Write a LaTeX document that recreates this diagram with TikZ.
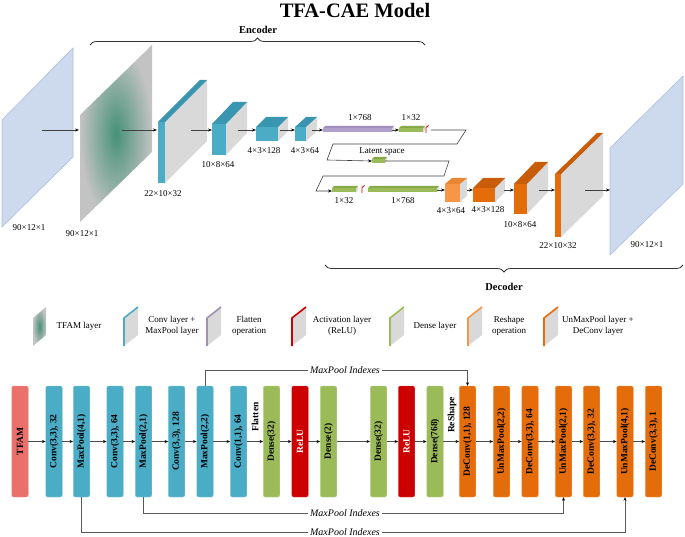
\documentclass[tikz,border=0pt]{standalone}
\usepackage{fontspec}
\setmainfont{Liberation Serif}
\usepackage{graphicx}
\usetikzlibrary{positioning}
\usetikzlibrary{arrows.meta}
\usetikzlibrary{decorations.pathreplacing}

\definecolor{convblue}{RGB}{75,172,198}
\definecolor{convtop}{RGB}{58,150,176}
\definecolor{denseg}{RGB}{155,187,89}
\definecolor{densetop}{RGB}{135,168,70}
\definecolor{relured}{RGB}{204,0,0}
\definecolor{deorange}{RGB}{228,108,10}
\definecolor{detop}{RGB}{200,92,8}
\definecolor{reorange}{RGB}{247,150,70}
\definecolor{retop}{RGB}{232,134,52}
\definecolor{flatpurple}{RGB}{178,160,204}
\definecolor{flattop}{RGB}{160,142,190}
\definecolor{tfamred}{RGB}{234,112,107}
\definecolor{tfamgreen}{RGB}{70,145,120}
\definecolor{tfamgray}{RGB}{195,195,195}
\definecolor{sidegray}{RGB}{217,217,217}
\definecolor{planeblue}{RGB}{205,218,238}
\definecolor{planeedge}{RGB}{170,190,225}

% x0, y0, x1, y1, depth x, depth y, front, top
\newcommand{\cubelayer}[8]{%
  \fill[sidegray] (#3,#2) -- ++(#5,-#6) -- ++(0,{#4-(#2)}) -- (#3,#4) -- cycle;
  \fill[#8] (#1,#2) -- ++(#5,-#6) -- ++({#3-(#1)},0) -- (#3,#2) -- cycle;
  \fill[#7] (#1,#2) rectangle (#3,#4);
}
% x, colour
\newcommand{\legicon}[2]{%
  \fill[sidegray] (#1,318) -- ++(14,-11) -- ++(0,28) -- ++(-14,11) -- cycle;
  \draw[#2, line width=1.6pt] (#1,346) -- (#1,318) -- ++(14,-11);
}
\newcommand{\up}[1]{\rotatebox{90}{#1}}

\begin{document}
\begin{tikzpicture}[x=1pt,y=-1pt,
    arr/.style={draw=black!75, line width=0.6pt, -{Stealth[length=4pt,width=3pt,black]}},
    dim/.style={font=\fontsize{9}{10}\selectfont, inner sep=1pt},
    brc/.style={draw=black!80, line width=0.8pt, decorate, decoration={brace, amplitude=7pt}},
    legtxt/.style={font=\fontsize{9}{11}\selectfont, align=center, inner sep=1pt},
    fbox/.style={rounded corners=2pt, minimum width=16.5pt, minimum height=111pt, inner sep=0pt,
        line width=0.4pt, font=\fontsize{9.5}{10}\selectfont\bfseries},
    tfambox/.style={fbox, fill=tfamred, draw=tfamred!70!white},
    convbox/.style={fbox, fill=convblue, draw=convblue!70!white},
    densebox/.style={fbox, fill=denseg, draw=denseg!70!white},
    relubox/.style={fbox, fill=relured, draw=relured!70!white, text=white},
    debox/.style={fbox, fill=deorange, draw=deorange!70!white},
    flow/.style={draw=black!70, line width=0.6pt, -{Stealth[length=3.5pt,width=3pt,black]}},
    idxline/.style={draw=black!65, line width=0.6pt},
    idxarr/.style={idxline, -{Stealth[length=3.5pt,width=3pt,black]}},
    idxlab/.style={font=\fontsize{10}{11}\selectfont\itshape, inner sep=1.5pt},
    note/.style={font=\fontsize{9.5}{10}\selectfont\bfseries, inner sep=0pt}]
    \useasboundingbox (0,0) rectangle (685,537);

    \node[font=\fontsize{20.5}{22}\selectfont\bfseries] (title) at (355,10) {TFA-CAE Model};

    % encoder
    \draw[brc] (90,45) -- (425,45);
    \node[font=\fontsize{10.5}{12}\selectfont\bfseries] (enc) at (258,30) {Encoder};

    \fill[planeblue, draw=planeedge, line width=0.6pt] (2,120) -- (73,48) -- (73,157) -- (2,227) -- cycle;
    \shade[inner color=tfamgreen, outer color=tfamgray] (80,115) -- (152,45) -- (152,152) -- (80,222) -- cycle;
    \cubelayer{158}{122}{165}{183}{42}{42}{convblue}{convtop}
    \cubelayer{212}{124}{226}{155}{21}{22}{convblue}{convtop}
    \cubelayer{256}{127}{278}{141}{10}{10}{convblue}{convtop}
    \cubelayer{295}{127}{306}{141}{11}{10}{convblue}{convtop}
    \cubelayer{323}{128}{392}{132}{2}{2}{flatpurple}{flattop}
    \cubelayer{399}{128}{423}{132}{2}{2}{denseg}{densetop}
    \cubelayer{372}{159}{385}{163}{2}{2}{denseg}{densetop}
    \draw[relured, line width=0.9pt] (426,133) -- (426,127.5) -- (428.5,125.5);

    \node[dim] (s-in) at (29,228) {90×12×1};
    \node[dim] (s-tfam) at (82,234) {90×12×1};
    \node[dim] (s-c1) at (163,194) {22×10×32};
    \node[dim] (s-c2) at (218,165) {10×8×64};
    \node[dim] (s-c3) at (264,151) {4×3×128};
    \node[dim] (s-c4) at (305,151) {4×3×64};
    \node[dim] (s-fl) at (360,118) {1×768};
    \node[dim] (s-ds) at (411,118) {1×32};
    \node[dim] (s-lat) at (382,152) {Latent space};

    \coordinate (e0) at (42,130);  \coordinate (e1) at (79,130);
    \coordinate (e2) at (122,130); \coordinate (e3) at (157,130);
    \coordinate (e4) at (191,130); \coordinate (e5) at (212,130);
    \coordinate (e6) at (238,130); \coordinate (e7) at (256,130);
    \coordinate (e8) at (280,130); \coordinate (e9) at (295,130);
    \coordinate (e10) at (312,130); \coordinate (e11) at (323,130);
    \coordinate (e12) at (392,130); \coordinate (e13) at (399,130);
    \coordinate (e14) at (431,130); \coordinate (lat-w) at (372,161);
    \coordinate (lat-e) at (385,161);
    \foreach \a/\b in {e0/e1,e2/e3,e4/e5,e6/e7,e8/e9,e10/e11,e12/e13}
        \draw[arr] (\a) -- (\b);
    \draw[arr] (e14) -- (466,130) -- (457,144) -- (333,144) -- (327,160) -- (lat-w);

    % decoder
    \draw[brc] (683,265) -- (325,265);
    \node[font=\fontsize{10.5}{12}\selectfont\bfseries] (dec) at (504,287) {Decoder};

    \cubelayer{332}{188}{356}{192}{2}{2}{denseg}{densetop}
    \cubelayer{368}{188}{437}{192}{2}{2}{denseg}{densetop}
    \draw[relured, line width=0.9pt] (362,193) -- (362,187.5) -- (364.5,185.5);
    \cubelayer{445}{184}{460}{202}{7}{6}{reorange}{retop}
    \cubelayer{473}{188}{495}{202}{10}{10}{deorange}{detop}
    \cubelayer{514}{184}{527}{214}{21}{22}{deorange}{detop}
    \cubelayer{555}{174}{561}{237}{42}{41}{deorange}{detop}
    \fill[planeblue, draw=planeedge, line width=0.6pt] (610,148) -- (683,76) -- (683,184) -- (610,255) -- cycle;

    \node[dim] (s-d1) at (344,201) {1×32};
    \node[dim] (s-d2) at (403,201) {1×768};
    \node[dim] (s-r) at (451,211) {4×3×64};
    \node[dim] (s-u1) at (488,210) {4×3×128};
    \node[dim] (s-u2) at (520,225) {10×8×64};
    \node[dim] (s-u3) at (558,246) {22×10×32};
    \node[dim] (s-out) at (647,245) {90×12×1};

    \coordinate (d0) at (332,191);
    \coordinate (d1) at (437,190); \coordinate (d2) at (445,190);
    \coordinate (d3) at (467,190); \coordinate (d4) at (473,190);
    \coordinate (d5) at (504,190); \coordinate (d6) at (514,190);
    \coordinate (d7) at (539,190); \coordinate (d8) at (555,190);
    \coordinate (d9) at (585,190); \coordinate (d10) at (610,190);
    \draw[arr] (lat-e) -- (449,161) -- (444,176) -- (323,176) -- (316,191) -- (d0);
    \foreach \a/\b in {d1/d2,d3/d4,d5/d6,d7/d8,d9/d10}
        \draw[arr] (\a) -- (\b);

    % legend
    \shade[inner color=tfamgreen, outer color=tfamgray] (33,318) -- ++(13,-11) -- ++(0,28) -- ++(-13,11) -- cycle;
    \legicon{124}{convblue}
    \legicon{207}{flatpurple!90!black}
    \legicon{292}{relured}
    \legicon{390}{denseg}
    \legicon{468}{reorange}
    \legicon{544}{deorange}
    \node[legtxt] (lg1) at (79,326) {TFAM layer};
    \node[legtxt] (lg2) at (172,326) {Conv layer +\\MaxPool layer};
    \node[legtxt] (lg3) at (249,326) {Flatten\\operation};
    \node[legtxt] (lg4) at (342,326) {Activation layer\\(ReLU)};
    \node[legtxt] (lg5) at (435,326) {Dense layer};
    \node[legtxt] (lg6) at (509,326) {Reshape\\operation};
    \node[legtxt] (lg7) at (598,326) {UnMaxPool layer +\\DeConv layer};

    % flow chart
    \node[tfambox] (tfam) at (20,441.5) {\up{TFAM}};
    \node[convbox] (c1) at (54,441.5) {\up{Conv(3,3), 32}};
    \node[convbox] (mp1) at (81.5,441.5) {\up{MaxPool(4,1)}};
    \node[convbox] (c2) at (115,441.5) {\up{Conv(3,3), 64}};
    \node[convbox] (mp2) at (143.5,441.5) {\up{MaxPool(2,1)}};
    \node[convbox] (c3) at (176.5,441.5) {\up{Conv(3,3), 128}};
    \node[convbox] (mp3) at (205,441.5) {\up{MaxPool(2,2)}};
    \node[convbox] (c4) at (238.5,441.5) {\up{Conv(1,1), 64}};
    \node[densebox] (ds1) at (271.5,441.5) {\up{Dense(32)}};
    \node[relubox] (rl1) at (300,441.5) {\up{ReLU}};
    \node[densebox] (ds2) at (328.5,441.5) {\up{Dense(2)}};
    \node[densebox] (ds3) at (378.5,441.5) {\up{Dense(32)}};
    \node[relubox] (rl2) at (406.5,441.5) {\up{ReLU}};
    \node[densebox] (ds4) at (435,441.5) {\up{Dense(768)}};
    \node[debox] (dc1) at (467.5,441.5) {\up{DeConv(1,1), 128}};
    \node[debox] (ump1) at (501.5,441.5) {\up{UnMaxPool(2,2)}};
    \node[debox] (dc2) at (530,441.5) {\up{DeConv(3,3), 64}};
    \node[debox] (ump2) at (563.5,441.5) {\up{UnMaxPool(2,1)}};
    \node[debox] (dc3) at (591.5,441.5) {\up{DeConv(3,3), 32}};
    \node[debox] (ump3) at (625,441.5) {\up{UnMaxPool(4,1)}};
    \node[debox] (dc4) at (653.5,441.5) {\up{DeConv(3,3), 1}};
    \node[note] (flat) at (255,417) {\up{Flatten}};
    \node[note] (resh) at (452,415) {\up{ReShape}};

    \foreach \a/\b in {tfam/c1,c1/mp1,mp1/c2,c2/mp2,mp2/c3,c3/mp3,mp3/c4,c4/ds1,ds1/rl1,rl1/ds2,
        ds2/ds3,ds3/rl2,rl2/ds4,ds4/dc1,dc1/ump1,ump1/dc2,dc2/ump2,ump2/dc3,dc3/ump3,ump3/dc4}
        \draw[flow] (\a) -- (\b);

    \node[idxlab] (ix1) at (345,370) {MaxPool Indexes};
    \node[idxlab] (ix2) at (345,513) {MaxPool Indexes};
    \node[idxlab] (ix3) at (345,532) {MaxPool Indexes};
    \draw[idxline] (mp3.north) |- (ix1.west);
    \draw[idxarr] (ix1.east) -| (dc1.north);
    \draw[idxline] (mp2.south) |- (ix2.west);
    \draw[idxarr] (ix2.east) -| (ump2.south);
    \draw[idxline] (mp1.south) |- (ix3.west);
    \draw[idxarr] (ix3.east) -| (ump3.south);
\end{tikzpicture}
\end{document}
